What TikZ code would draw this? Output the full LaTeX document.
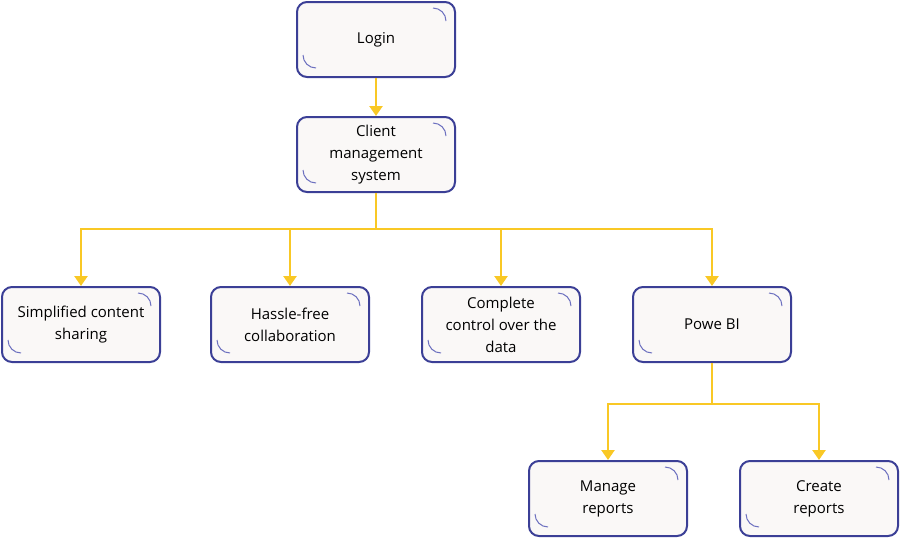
\documentclass[tikz,border=0pt]{standalone}
\usepackage{fontspec}
\setmainfont{Open Sans}
\usetikzlibrary{arrows.meta}
\definecolor{bd}{HTML}{3B3F96}
\definecolor{fl}{HTML}{FAF8F7}
\definecolor{ar}{HTML}{F9C825}
\definecolor{ac}{HTML}{6E72C0}
\begin{document}
\begin{tikzpicture}[x=1pt,y=-1pt,
 box/.style={draw=bd,line width=2pt,fill=fl,rounded corners=10pt,minimum width=158pt,minimum height=75pt,align=center,font=\fontsize{15}{22}\selectfont,inner sep=2pt,
  path picture={\draw[ac,line width=1pt] ([xshift=-22pt,yshift=-6pt]path picture bounding box.north east) arc[start angle=90,end angle=0,radius=13pt];
   \draw[ac,line width=1pt] ([xshift=6pt,yshift=22pt]path picture bounding box.south west) arc[start angle=180,end angle=270,radius=13pt];}},
 con/.style={draw=ar,line width=2.5pt},
 arr/.style={con,-{Triangle[width=13pt,length=10pt]}}]
\useasboundingbox (0,0) rectangle (900,539);
\node[box] (login) at (376,39.5) {Login};
\node[box] (cms) at (376,154.5) {Client\\management\\system};
\node[box] (s1) at (81,324.5) {Simplified content\\sharing};
\node[box] (s2) at (290,324.5) {Hassle-free\\collaboration};
\node[box] (s3) at (501,324.5) {Complete\\control over the\\data};
\node[box] (s4) at (712,324.5) {Powe BI};
\node[box] (m) at (608,498.5) {Manage\\reports};
\node[box] (c) at (819,498.5) {Create\\reports};
\draw[arr] (login) -- (cms);
\coordinate (j) at (376,229);
\draw[con] (cms) -- (j);
\foreach \n in {s1,s2,s3,s4}{\draw[arr] (j) -| (\n);}
\coordinate (k) at (712,404);
\draw[con] (s4) -- (k);
\draw[arr] (k) -| (m);
\draw[arr] (k) -| (c);
\end{tikzpicture}
\end{document}
